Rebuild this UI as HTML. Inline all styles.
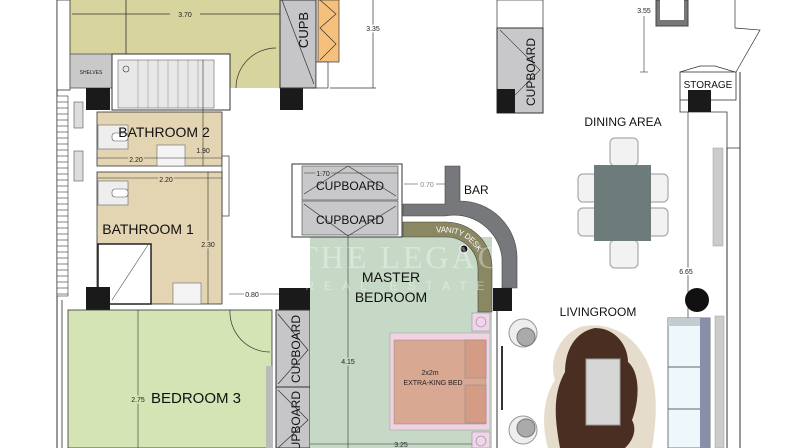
<!DOCTYPE html>
<html><head><style>
html,body{margin:0;padding:0;background:#fff;}
svg{display:block;font-family:"Liberation Sans",sans-serif;}
</style></head><body>
<svg width="796" height="448" viewBox="0 0 796 448" xmlns="http://www.w3.org/2000/svg">
<defs><path id="arc" d="M412 229.5 L446 229.5 A38.5 38.5 0 0 1 484.5 268"/></defs>
<!-- top-left olive room -->
<rect x="70" y="0" width="210" height="88" fill="#d7d49d"/>
<line x1="126" y1="0" x2="126" y2="54" stroke="#333" stroke-width="0.8"/>
<line x1="72" y1="14" x2="280" y2="14" stroke="#333" stroke-width="0.8"/>
<rect x="170" y="7" width="30" height="13" fill="#d7d49d"/>
<text x="185" y="17" font-size="7" text-anchor="middle" fill="#222">3.70</text>
<line x1="57" y1="0" x2="57" y2="448" stroke="#333"/>
<rect x="57" y="0" width="13" height="90" fill="#fff" stroke="#333" stroke-width="0.8"/>
<rect x="70" y="54" width="42" height="34" fill="#c9c9c9" stroke="#555" stroke-width="0.8"/>
<text x="91" y="74" font-size="5" text-anchor="middle" fill="#222">SHELVES</text>
<rect x="112" y="54" width="118" height="56" fill="#fff" stroke="#333"/>
<rect x="118" y="60" width="96" height="48" fill="#e8e8e8" stroke="#666" stroke-width="0.6"/>
<g stroke="#888" stroke-width="0.5"><line x1="138" y1="60" x2="138" y2="108"/><line x1="148" y1="60" x2="148" y2="108"/><line x1="158" y1="60" x2="158" y2="108"/><line x1="168" y1="60" x2="168" y2="108"/><line x1="178" y1="60" x2="178" y2="108"/><line x1="188" y1="60" x2="188" y2="108"/><line x1="198" y1="60" x2="198" y2="108"/></g>
<circle cx="126" cy="69" r="3" fill="none" stroke="#333" stroke-width="0.6"/>
<path d="M236 88 A40 40 0 0 1 276 48" fill="none" stroke="#333" stroke-width="0.7"/>
<rect x="86" y="88" width="24" height="22" fill="#1a1a1a"/>
<rect x="280" y="88" width="23" height="22" fill="#1a1a1a"/>
<rect x="280" y="0" width="36" height="88" fill="#c6c6c8" stroke="#333"/>
<line x1="282" y1="0" x2="314" y2="84" stroke="#333" stroke-width="0.7"/>
<text transform="translate(308,30) rotate(-90)" font-size="13" text-anchor="middle" fill="#111">CUPB</text>
<rect x="318" y="0" width="21" height="62" fill="#f4c07c" stroke="#333" stroke-width="0.7"/>
<path d="M320 0 L336 14 L320 28 L336 44 L320 60" fill="none" stroke="#333" stroke-width="0.7"/>
<rect x="316" y="62" width="12" height="26" fill="#fff" stroke="#333" stroke-width="0.7"/>
<line x1="373" y1="0" x2="373" y2="88" stroke="#333" stroke-width="0.7"/>
<line x1="330" y1="88" x2="376" y2="88" stroke="#333" stroke-width="0.7"/>
<text x="373" y="31" font-size="7" text-anchor="middle" fill="#222" stroke="#fff" stroke-width="3" paint-order="stroke">3.35</text>
<!-- left hatch wall -->
<rect x="57" y="96" width="11" height="200" fill="#fff" stroke="#333" stroke-width="0.6"/>
<g stroke="#333" stroke-width="0.6">
<line x1="57" y1="102" x2="68" y2="102"/><line x1="57" y1="108" x2="68" y2="108"/><line x1="57" y1="114" x2="68" y2="114"/><line x1="57" y1="120" x2="68" y2="120"/><line x1="57" y1="126" x2="68" y2="126"/><line x1="57" y1="132" x2="68" y2="132"/><line x1="57" y1="138" x2="68" y2="138"/><line x1="57" y1="144" x2="68" y2="144"/><line x1="57" y1="150" x2="68" y2="150"/><line x1="57" y1="156" x2="68" y2="156"/><line x1="57" y1="162" x2="68" y2="162"/><line x1="57" y1="168" x2="68" y2="168"/><line x1="57" y1="174" x2="68" y2="174"/><line x1="57" y1="180" x2="68" y2="180"/><line x1="57" y1="186" x2="68" y2="186"/><line x1="57" y1="192" x2="68" y2="192"/><line x1="57" y1="198" x2="68" y2="198"/><line x1="57" y1="204" x2="68" y2="204"/><line x1="57" y1="210" x2="68" y2="210"/><line x1="57" y1="216" x2="68" y2="216"/><line x1="57" y1="222" x2="68" y2="222"/><line x1="57" y1="228" x2="68" y2="228"/><line x1="57" y1="234" x2="68" y2="234"/><line x1="57" y1="240" x2="68" y2="240"/><line x1="57" y1="246" x2="68" y2="246"/><line x1="57" y1="252" x2="68" y2="252"/><line x1="57" y1="258" x2="68" y2="258"/><line x1="57" y1="264" x2="68" y2="264"/><line x1="57" y1="270" x2="68" y2="270"/><line x1="57" y1="276" x2="68" y2="276"/><line x1="57" y1="282" x2="68" y2="282"/><line x1="57" y1="288" x2="68" y2="288"/><line x1="57" y1="294" x2="68" y2="294"/></g>
<line x1="62" y1="300" x2="62" y2="448" stroke="#555"/>
<rect x="74" y="102" width="9" height="26" fill="#ddd" stroke="#555" stroke-width="0.6"/>
<rect x="74" y="151" width="9" height="30" fill="#ddd" stroke="#555" stroke-width="0.6"/>
<!-- bathroom 2 -->
<rect x="97" y="112" width="125" height="54" fill="#e3d4b2" stroke="#333" stroke-width="0.8"/>
<rect x="98" y="125" width="30" height="24" fill="#eee" stroke="#666" stroke-width="0.6"/>
<rect x="112" y="133" width="16" height="8" rx="3" fill="#fff" stroke="#555" stroke-width="0.6"/>
<rect x="157" y="145" width="28" height="21" fill="#f4f4f4" stroke="#666" stroke-width="0.6"/>
<text x="164" y="137" font-size="14" text-anchor="middle" fill="#111">BATHROOM 2</text>
<line x1="203" y1="60" x2="203" y2="166" stroke="#333" stroke-width="0.6"/>
<text x="203" y="153" font-size="7" text-anchor="middle" fill="#222">1.90</text>
<line x1="97" y1="158" x2="222" y2="158" stroke="#333" stroke-width="0.6"/>
<text x="136" y="162" font-size="7" text-anchor="middle" fill="#222" stroke="#e3d4b2" stroke-width="3" paint-order="stroke">2.20</text>
<rect x="222" y="156" width="7" height="60" fill="#fff" stroke="#333" stroke-width="0.7"/>
<!-- bathroom 1 -->
<rect x="97" y="172" width="125" height="132" fill="#e3d4b2" stroke="#333" stroke-width="0.8"/>
<line x1="97" y1="178" x2="222" y2="178" stroke="#333" stroke-width="0.6"/>
<text x="166" y="182" font-size="7" text-anchor="middle" fill="#222" stroke="#e3d4b2" stroke-width="3" paint-order="stroke">2.20</text>
<rect x="98" y="181" width="30" height="24" fill="#eee" stroke="#666" stroke-width="0.6"/>
<rect x="112" y="189" width="16" height="8" rx="3" fill="#fff" stroke="#555" stroke-width="0.6"/>
<text x="148" y="234" font-size="14" text-anchor="middle" fill="#111">BATHROOM 1</text>
<line x1="208" y1="172" x2="208" y2="304" stroke="#333" stroke-width="0.6"/>
<text x="208" y="247" font-size="7" text-anchor="middle" fill="#222" stroke="#e3d4b2" stroke-width="3" paint-order="stroke">2.30</text>
<rect x="98" y="244" width="53" height="60" fill="#fff" stroke="#222" stroke-width="1.5"/>
<line x1="112" y1="300" x2="148" y2="245" stroke="#555" stroke-width="0.6"/>
<rect x="173" y="283" width="28" height="21" fill="#f4f4f4" stroke="#666" stroke-width="0.6"/>
<rect x="86" y="287" width="24" height="23" fill="#1a1a1a"/>
<rect x="279" y="288" width="31" height="22" fill="#1a1a1a"/>
<line x1="229" y1="294" x2="279" y2="294" stroke="#333" stroke-width="0.6"/>
<text x="252" y="297" font-size="7" text-anchor="middle" fill="#222" stroke="#fff" stroke-width="3" paint-order="stroke">0.80</text>
<!-- bedroom 3 -->
<rect x="68" y="310" width="204" height="138" fill="#d5e4b4" stroke="#333" stroke-width="0.8"/>
<line x1="138" y1="310" x2="138" y2="448" stroke="#333" stroke-width="0.6"/>
<text x="138" y="402" font-size="7" text-anchor="middle" fill="#222" stroke="#d5e4b4" stroke-width="3" paint-order="stroke">2.75</text>
<text x="196" y="403" font-size="15" text-anchor="middle" fill="#111">BEDROOM 3</text>
<path d="M230 310 A40 40 0 0 0 270 352" fill="none" stroke="#333" stroke-width="0.7"/>
<rect x="266" y="366" width="7" height="82" fill="#bbb"/>
<rect x="276" y="310" width="34" height="138" fill="#c6c6c8" stroke="#333"/>
<line x1="276" y1="387" x2="310" y2="387" stroke="#333"/>
<path d="M278 314 L308 350 L278 384 M278 390 L308 420 L278 448" fill="none" stroke="#333" stroke-width="0.7"/>
<text transform="translate(300,349) rotate(-90)" font-size="12" text-anchor="middle" fill="#111">CUPBOARD</text>
<text transform="translate(300,425) rotate(-90)" font-size="12" text-anchor="middle" fill="#111">CUPBOARD</text>
<!-- master bedroom -->
<rect x="310" y="237" width="182" height="211" fill="#c6d9c7"/>
<line x1="348" y1="237" x2="348" y2="448" stroke="#333" stroke-width="0.6"/>
<text x="348" y="364" font-size="7" text-anchor="middle" fill="#222" stroke="#c6d9c7" stroke-width="3" paint-order="stroke">4.15</text>
<text x="391" y="282" font-size="14" text-anchor="middle" fill="#111">MASTER</text>
<text x="391" y="302" font-size="14" text-anchor="middle" fill="#111">BEDROOM</text>
<line x1="310" y1="444" x2="490" y2="444" stroke="#333" stroke-width="0.6"/>
<text x="401" y="447" font-size="7" text-anchor="middle" fill="#222">3.25</text>
<rect x="390" y="333" width="100" height="97" fill="#f2d2e2" stroke="#999" stroke-width="0.5"/>
<rect x="394" y="340" width="92" height="84" fill="#d8a893" stroke="#888" stroke-width="0.5"/>
<rect x="465" y="340" width="21" height="38" fill="#d49c84" stroke="#888" stroke-width="0.5"/>
<rect x="465" y="385" width="21" height="38" fill="#d49c84" stroke="#888" stroke-width="0.5"/>
<text x="430" y="375" font-size="7" text-anchor="middle" fill="#222">2x2m</text>
<text x="433" y="385" font-size="7" text-anchor="middle" fill="#222">EXTRA-KING BED</text>
<rect x="472" y="313" width="18" height="18" fill="#f0d5ea" stroke="#888" stroke-width="0.5"/>
<circle cx="481" cy="322" r="5" fill="none" stroke="#888" stroke-width="0.6"/>
<rect x="472" y="432" width="18" height="16" fill="#f0d5ea" stroke="#888" stroke-width="0.5"/>
<circle cx="481" cy="441" r="5" fill="none" stroke="#888" stroke-width="0.6"/>
<line x1="497" y1="311" x2="497" y2="448" stroke="#333"/>
<line x1="502" y1="346" x2="502" y2="410" stroke="#333" stroke-width="2"/>
<!-- vanity & bar -->
<path d="M403 222 L446 222 A46 46 0 0 1 492 268 L492 312 L478 312 L478 268 A32 32 0 0 0 446 237 L403 237 Z" fill="#8a8862" stroke="#444" stroke-width="0.6"/>
<path d="M403 204 L445 204 L445 166 L460 166 L460 201 A57 57 0 0 1 517 258 L517 288 L502 288 L502 258 A48 48 0 0 0 445 216 L403 216 Z" fill="#76787b" stroke="#444" stroke-width="0.6"/>
<rect x="493" y="288" width="19" height="23" fill="#1a1a1a"/>
<circle cx="464" cy="249" r="4" fill="#111" stroke="#fff" stroke-width="1"/>
<text font-size="8" fill="#fff" dy="3"><textPath href="#arc" startOffset="24">VANITY DESK</textPath></text>
<text x="464" y="194" font-size="12" fill="#111">BAR</text>
<!-- master cupboards -->
<rect x="292" y="164" width="110" height="73" fill="#fff" stroke="#333"/>
<rect x="302" y="166" width="96" height="34" fill="#c8c8ca" stroke="#444" stroke-width="0.6"/>
<rect x="302" y="201" width="96" height="34" fill="#c8c8ca" stroke="#444" stroke-width="0.6"/>
<path d="M304 194 L348 166 L396 196 M304 204 L348 236 L396 206" fill="none" stroke="#333" stroke-width="0.7"/>
<text x="350" y="190" font-size="12" text-anchor="middle" fill="#111">CUPBOARD</text>
<text x="350" y="224" font-size="12" text-anchor="middle" fill="#111">CUPBOARD</text>
<line x1="304" y1="173" x2="398" y2="173" stroke="#333" stroke-width="0.5"/>
<text x="323" y="176" font-size="7" text-anchor="middle" fill="#222" stroke="#c8c8ca" stroke-width="3" paint-order="stroke">1.70</text>
<text x="427" y="187" font-size="7" text-anchor="middle" fill="#888">0.70</text>
<line x1="404" y1="184" x2="418" y2="184" stroke="#333" stroke-width="0.5"/>
<line x1="436" y1="184" x2="445" y2="184" stroke="#333" stroke-width="0.5"/>
<!-- middle cupboard -->
<rect x="497" y="0" width="46" height="28" fill="#fff" stroke="#333" stroke-width="0.7"/>
<rect x="497" y="28" width="46" height="85" fill="#c8c8ca" stroke="#333"/>
<path d="M500 30 L540 70 L500 110" fill="none" stroke="#333" stroke-width="0.6"/>
<rect x="497" y="89" width="18" height="24" fill="#1a1a1a"/>
<text transform="translate(535,72) rotate(-90)" font-size="12" text-anchor="middle" fill="#111">CUPBOARD</text>
<rect x="656" y="0" width="32" height="26" fill="#777" stroke="#444"/>
<rect x="660" y="0" width="24" height="20" fill="#fff"/>
<line x1="644" y1="16" x2="644" y2="72" stroke="#333" stroke-width="0.6"/>
<line x1="640" y1="72" x2="648" y2="72" stroke="#333" stroke-width="0.6"/>
<text x="644" y="13" font-size="7" text-anchor="middle" fill="#222">3.55</text>
<!-- right wall area -->
<path d="M735 0 L735 28 L760 30 L736 72" fill="none" stroke="#333" stroke-width="0.7"/>
<line x1="740" y1="72" x2="740" y2="448" stroke="#333"/>
<line x1="727" y1="148" x2="727" y2="448" stroke="#333"/>
<path d="M680 72 L700 66 L715 66 L735 72" fill="none" stroke="#333" stroke-width="0.7"/>
<rect x="680" y="72" width="56" height="28" fill="#fff" stroke="#333" stroke-width="0.8"/>
<text x="708" y="88" font-size="10" text-anchor="middle" fill="#111">STORAGE</text>
<path d="M680 100 L680 112 L727 112 L727 148 L740 148" fill="none" stroke="#333" stroke-width="0.8"/>
<rect x="688" y="90" width="23" height="22" fill="#1a1a1a"/>
<line x1="688" y1="112" x2="688" y2="318" stroke="#333" stroke-width="0.7"/>
<text x="686" y="274" font-size="7" text-anchor="middle" fill="#222" stroke="#fff" stroke-width="3" paint-order="stroke">6.65</text>
<rect x="713" y="148" width="10" height="98" fill="#ccc" stroke="#999" stroke-width="0.5"/>
<rect x="715" y="316" width="9" height="132" fill="#ccc" stroke="#999" stroke-width="0.5"/>
<circle cx="697" cy="300" r="12" fill="#111"/>
<!-- dining -->
<text x="623" y="126" font-size="12" text-anchor="middle" fill="#111">DINING AREA</text>
<g fill="#f2f2f2" stroke="#aaa" stroke-width="1.2">
<rect x="610" y="138" width="28" height="28" rx="5"/><rect x="610" y="240" width="28" height="28" rx="5"/>
<rect x="578" y="174" width="28" height="28" rx="5"/><rect x="578" y="208" width="28" height="28" rx="5"/>
<rect x="640" y="174" width="28" height="28" rx="5"/><rect x="640" y="208" width="28" height="28" rx="5"/>
</g>
<rect x="594" y="165" width="57" height="76" fill="#6e7b7b"/>
<!-- living -->
<text x="598" y="316" font-size="12" text-anchor="middle" fill="#111">LIVINGROOM</text>
<circle cx="523" cy="333" r="14" fill="#eee" stroke="#999"/><circle cx="526" cy="337" r="9" fill="#aaa" stroke="#777"/>
<circle cx="523" cy="430" r="14" fill="#eee" stroke="#999"/><circle cx="526" cy="428" r="9" fill="#aaa" stroke="#777"/>
<path d="M548 448 C540 420 545 395 555 380 C548 360 560 335 580 327 C600 322 625 328 640 350 C655 370 660 400 652 448 Z" fill="#e5dccb"/>
<path d="M560 448 C555 420 552 395 565 372 C565 350 575 332 595 328 C615 328 628 345 628 362 C640 372 640 400 632 420 C640 435 625 448 625 448 Z" fill="#4a2e22"/>
<rect x="586" y="359" width="34" height="66" fill="#d6d6d6" stroke="#999"/>
<rect x="668" y="318" width="42" height="130" fill="#eef7fb" stroke="#777"/>
<rect x="668" y="318" width="32" height="8" fill="#c5ccd0"/>
<rect x="700" y="318" width="10" height="130" fill="#8a8fa9"/>
<line x1="668" y1="367" x2="700" y2="367" stroke="#666"/>
<line x1="668" y1="409" x2="700" y2="409" stroke="#666"/>
<!-- watermark -->
<text x="400" y="268" font-size="32" text-anchor="middle" fill="#fff" fill-opacity="0.35" font-family="Liberation Serif, serif" letter-spacing="3">THE LEGAC</text>
<text x="400" y="290" font-size="12" text-anchor="middle" fill="#fff" fill-opacity="0.4" letter-spacing="10">REAL ESTATE</text>
</svg>
</body></html>
